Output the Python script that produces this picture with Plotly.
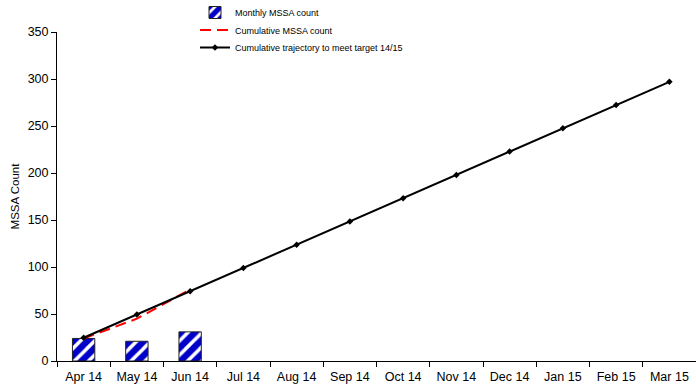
import plotly.graph_objects as go

months = ["Apr 14", "May 14", "Jun 14", "Jul 14", "Aug 14", "Sep 14",
          "Oct 14", "Nov 14", "Dec 14", "Jan 15", "Feb 15", "Mar 15"]
monthly_count = [24, 21, 31]
cumulative_count = [24, 45, 76]
trajectory = [24.75, 49.5, 74.25, 99, 123.75, 148.5,
              173.25, 198, 222.75, 247.5, 272.25, 297]

FONT = "Liberation Sans, Arial, sans-serif"
LEG_FONT = dict(family=FONT, size=9, color="black")

# page layout in pixels
W, H = 696, 389
M_L, M_R, M_T, M_B = 57, 0, 32, 28
PLOT_W = W - M_L - M_R
PLOT_H = H - M_T - M_B

fig = go.Figure()

fig.add_trace(go.Bar(
    x=months[:len(monthly_count)], y=monthly_count,
    name="Monthly MSSA count",
    width=0.42,
    legend="legend",
    marker=dict(
        color="white",
        line=dict(color="#222222", width=1),
        pattern=dict(shape="/", fgcolor="#0000c8", fgopacity=1, bgcolor="white",
                     size=10, solidity=0.65, fillmode="overlay"),
    ),
))

fig.add_trace(go.Scatter(
    x=months[:len(cumulative_count)], y=cumulative_count,
    name="Cumulative MSSA count",
    mode="lines",
    legend="legend2",
    line=dict(color="#ff0000", width=2, dash="11px,6px"),
))

fig.add_trace(go.Scatter(
    x=months, y=trajectory,
    name="Cumulative trajectory to meet target 14/15",
    mode="lines+markers",
    legend="legend3",
    line=dict(color="black", width=2),
    marker=dict(symbol="diamond", size=5, color="black"),
))


def legend_box(ypix):
    # one legend row centred on a given pixel row of the page
    return dict(
        x=(195 - M_L) / PLOT_W, y=(H - M_B - ypix) / PLOT_H,
        xanchor="left", yanchor="middle",
        font=LEG_FONT, bgcolor="rgba(0,0,0,0)", itemwidth=30,
    )


fig.update_layout(
    width=W, height=H,
    margin=dict(l=M_L, r=M_R, t=M_T, b=M_B, autoexpand=False),
    plot_bgcolor="white", paper_bgcolor="white",
    font=dict(family=FONT, size=12.5, color="black"),
    showlegend=True,
    legend=legend_box(12.5),
    legend2=legend_box(30),
    legend3=legend_box(47.5),
    xaxis=dict(
        type="category",
        categoryorder="array", categoryarray=months,
        range=[-0.5, 11.5],
        showline=True, linecolor="black", linewidth=1,
        ticks="outside", tickson="boundaries", ticklen=5,
        tickcolor="black", tickangle=0, ticklabelstandoff=4,
        showgrid=False, zeroline=False,
        tickfont=dict(family=FONT, size=12.5),
    ),
    yaxis=dict(
        range=[0, 350], dtick=50,
        showline=True, linecolor="black", linewidth=1,
        ticks="outside", ticklen=5, tickcolor="black",
        showgrid=False, zeroline=False,
        title=dict(text="MSSA Count", font=dict(family=FONT, size=11.5), standoff=5),
        tickfont=dict(family=FONT, size=12.5),
    ),
)

fig.write_html("out.html")
